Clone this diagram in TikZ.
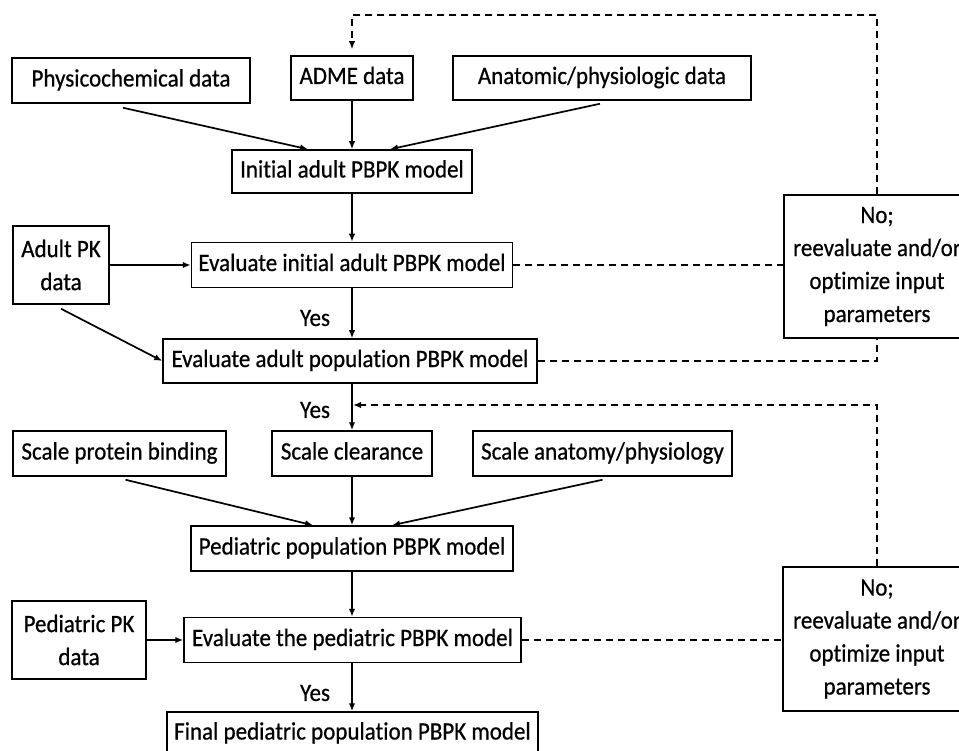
\documentclass[tikz,border=0pt]{standalone}
\usepackage{fontspec}
\setmainfont{Carlito}[FakeStretch=0.92,FakeBold=0.6,Ligatures=NoCommon]
\usetikzlibrary{arrows.meta,calc}
\begin{document}
\begin{tikzpicture}[x=1pt,y=-1pt,
  box/.style={draw,line width=1.5pt,inner sep=0pt,align=center,font=\fontsize{25}{33}\selectfont},
  sbox/.style={box,text height=18pt,text depth=6pt},
  lbl/.style={inner sep=0pt,font=\fontsize{25}{33}\selectfont},
  arr/.style={line width=1.7pt,-{Latex[length=8pt,width=6.5pt]}},
  dsh/.style={line width=1.8pt,dash pattern=on 7pt off 5pt},
  dsharr/.style={dsh,-{Latex[length=8pt,width=6.5pt]}}]
\useasboundingbox (0,0) rectangle (959,751);
\clip (0,0) rectangle (959,751);
\fill[white] (0,0) rectangle (959,751);
% nodes
\node[sbox,minimum width=238,minimum height=45] (phys) at (131,80.5) {Physicochemical data};
\node[sbox,minimum width=122,minimum height=44] (adme) at (352,78) {ADME data};
\node[sbox,minimum width=298,minimum height=44] (anat) at (602,78) {Anatomic/physiologic data};
\node[sbox,minimum width=240,minimum height=43] (init) at (352,171.5) {Initial adult PBPK model};
\node[box,minimum width=96,minimum height=78] (apk) at (61,265) {Adult PK\\data};
\node[sbox,minimum width=321,minimum height=45] (evi) at (352,265) {Evaluate initial adult PBPK model};
\node[sbox,minimum width=374,minimum height=44] (eva) at (350,361) {Evaluate adult population PBPK model};
\node[box,minimum width=186,minimum height=143] (no1) at (877,266.5) {No;\\reevaluate and/or\\optimize input\\parameters};
\node[sbox,minimum width=213,minimum height=45] (spb) at (119.5,453.5) {Scale protein binding};
\node[sbox,minimum width=160,minimum height=45] (scl) at (352,453.5) {Scale clearance};
\node[sbox,minimum width=259,minimum height=45] (san) at (602.5,453.5) {Scale anatomy/physiology};
\node[sbox,minimum width=322,minimum height=45] (ped) at (352,548.5) {Pediatric population PBPK model};
\node[box,minimum width=134,minimum height=78] (ppk) at (79,640) {Pediatric PK\\data};
\node[sbox,minimum width=337,minimum height=45] (evp) at (352.5,640) {Evaluate the pediatric PBPK model};
\node[box,minimum width=188,minimum height=144] (no2) at (877,639) {No;\\reevaluate and/or\\optimize input\\parameters};
\node[sbox,minimum width=371,minimum height=43] (fin) at (352.5,733.5) {Final pediatric population PBPK model};
\node[lbl] (yes1) at (315,318) {Yes};
\node[lbl] (yes2) at (315,410) {Yes};
\node[lbl] (yes3) at (315,693) {Yes};
\coordinate (top) at (352,15);
\coordinate (join) at (352,405);
% connectors
\draw[arr] ([xshift=-8pt,yshift=-4pt]phys.south) -- ([xshift=-44pt]init.north);
\draw[arr] (adme.south) -- (adme.south |- init.north);
\draw[arr] ([xshift=-2pt,yshift=-3pt]anat.south) -- ([xshift=38pt]init.north);
\draw[arr] (init.south) -- (init.south |- evi.north);
\draw[arr] (apk.east) -- (apk.east -| evi.west);
\draw[arr] (evi.south) -- (evi.south |- eva.north);
\draw[arr] ([yshift=-4pt]apk.south) -- (eva.west);
\draw[dsh] (evi.east) -- (evi.east -| no1.west);
\draw[dsh] (eva.east) -| (no1.south);
\draw[dsharr] (no1.north) |- (top) -- ([yshift=6pt]adme.north);
\draw[arr] (evi.south |- eva.south) -- (scl.north);
\draw[dsharr] (no2.north) |- ([xshift=1pt]join);
\draw[arr] ([xshift=6pt,yshift=-3pt]spb.south) -- ([xshift=-39pt]ped.north);
\draw[arr] (scl.south) -- (ped.north);
\draw[arr] ([yshift=-3pt]san.south) -- ([xshift=40pt]ped.north);
\draw[arr] (ped.south) -- (ped.south |- evp.north);
\draw[arr] (ppk.east) -- (ppk.east -| evp.west);
\draw[dsh] (evp.east) -- (evp.east -| no2.west);
\draw[arr] (ped.south |- evp.south) -- (ped.south |- fin.north);
\end{tikzpicture}
\end{document}
